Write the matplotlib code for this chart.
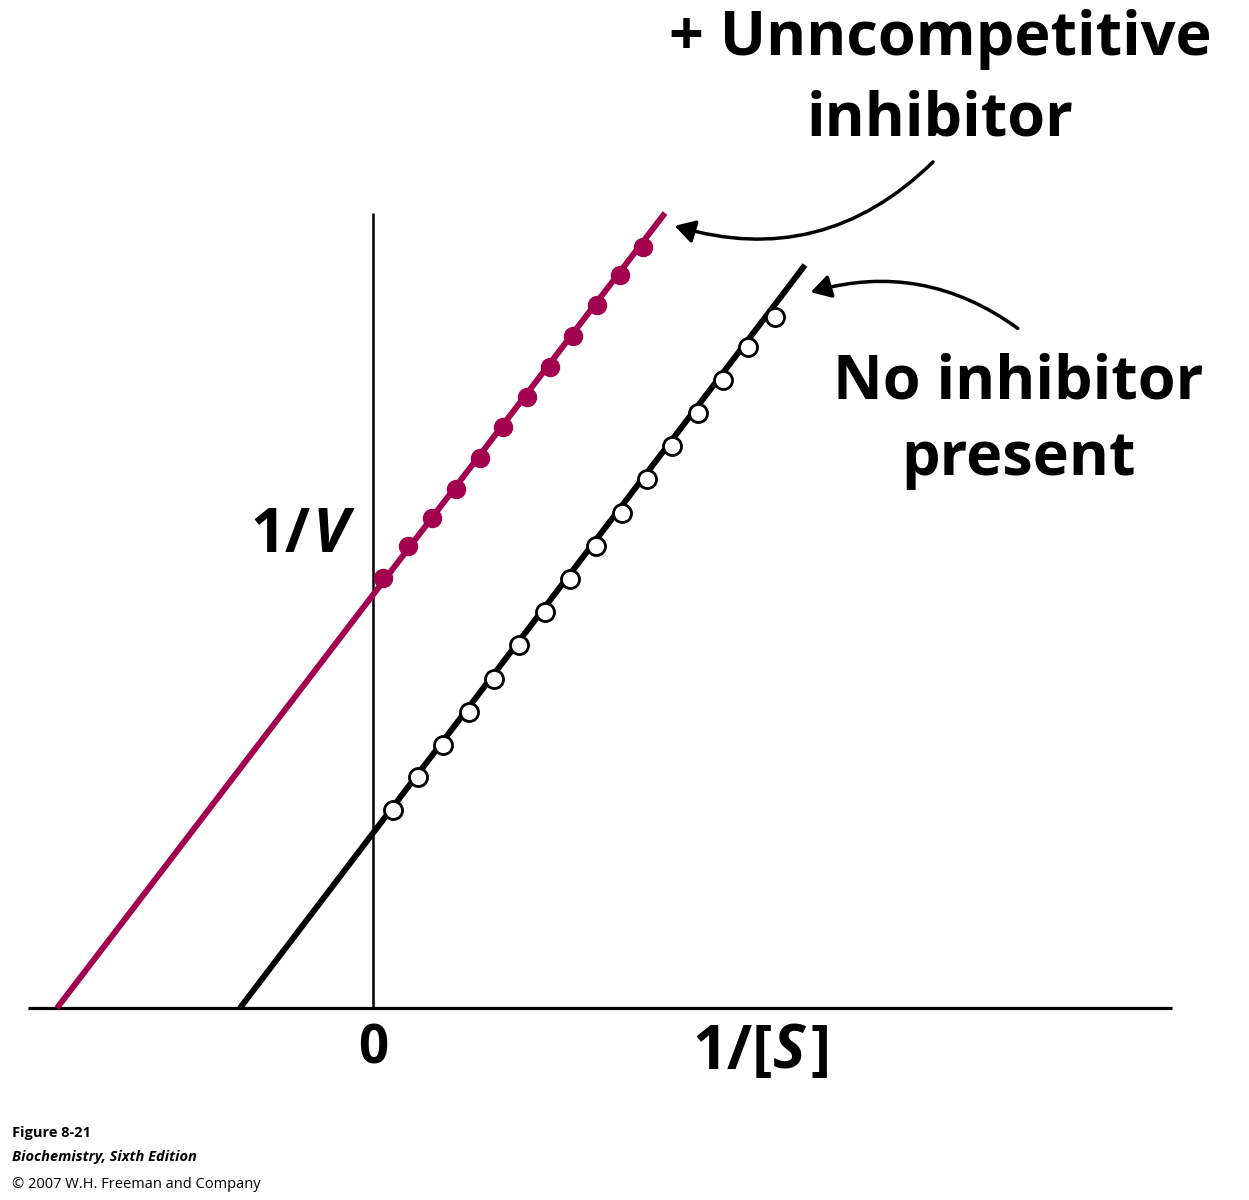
import matplotlib
matplotlib.use("Agg")
import matplotlib.pyplot as plt
from matplotlib.patches import FancyArrowPatch

# Data (units of 1/[S] and 1/V, arbitrary)
none_line_x = [-1.33, 4.32]
none_line_y = [0.0, 7.43]
inh_line_x = [-3.16, 2.92]
inh_line_y = [0.0, 7.95]
none_pts_x = [0.20, 0.45, 0.70, 0.96, 1.21, 1.46, 1.72, 1.97, 2.23, 2.49, 2.74, 2.99, 3.25, 3.50, 3.75, 4.02]
none_pts_y = [1.98, 2.31, 2.63, 2.96, 3.29, 3.63, 3.96, 4.29, 4.62, 4.95, 5.29, 5.62, 5.95, 6.28, 6.61, 6.91]
inh_pts_x = [0.10, 0.35, 0.59, 0.83, 1.07, 1.30, 1.54, 1.77, 2.00, 2.24, 2.47, 2.70]
inh_pts_y = [4.30, 4.62, 4.90, 5.19, 5.50, 5.81, 6.11, 6.41, 6.72, 7.03, 7.33, 7.61]

MAG = "#a3004f"
fig = plt.figure(figsize=(12.49, 12.0), dpi=100)
ax = fig.add_axes([0, 0, 1, 1])
ax.set_xlim(-3.73, 8.76)
ax.set_ylim(-1.92, 10.08)
ax.axis("off")

# axes lines
ax.plot([-3.45, 7.99], [0, 0], color="black", lw=2.3, solid_capstyle="butt")
ax.plot([0, 0], [0, 7.95], color="black", lw=1.8, solid_capstyle="butt")

ax.plot(inh_line_x, inh_line_y, color=MAG, lw=4.3, solid_capstyle="butt")
ax.plot(none_line_x, none_line_y, color="black", lw=4.3, solid_capstyle="butt")
ax.plot(inh_pts_x, inh_pts_y, "o", color=MAG, ms=13, mec=MAG)
ax.plot(none_pts_x, none_pts_y, "o", mfc="white", mec="black", mew=2, ms=13)

fb = dict(family="Open Sans", fontweight="bold", color="black")
FS = 44
ax.text(5.67, 9.68, "+ Unncompetitive", fontsize=FS, ha="center", va="center", **fb)
ax.text(5.67, 8.88, "inhibitor", fontsize=FS, ha="center", va="center", **fb)
ax.text(6.45, 6.25, "No inhibitor", fontsize=FS, ha="center", va="center", **fb)
ax.text(6.45, 5.48, "present", fontsize=FS, ha="center", va="center", **fb)
ax.text(-0.62, 4.72, "1/", fontsize=FS, ha="right", va="center", **fb)
ax.text(-0.60, 4.72, "V", fontsize=FS, ha="left", va="center", style="italic", **fb)
ax.text(0, -0.42, "0", fontsize=38, ha="center", va="center", **fb)
ax.text(4.00, -0.45, "1/[", fontsize=FS, ha="right", va="center", **fb)
ax.text(4.00, -0.45, "S", fontsize=FS, ha="left", va="center", style="italic", **fb)
ax.text(4.38, -0.45, "]", fontsize=FS, ha="left", va="center", **fb)

a1 = FancyArrowPatch((5.62, 8.48), (2.99, 7.83), connectionstyle="arc3,rad=-0.3",
                     arrowstyle="-|>,head_length=12,head_width=7", lw=2.5, color="black")
a2 = FancyArrowPatch((6.47, 6.78), (4.35, 7.15), connectionstyle="arc3,rad=0.25",
                     arrowstyle="-|>,head_length=12,head_width=7", lw=2.5, color="black")
ax.add_patch(a1)
ax.add_patch(a2)

ax.text(-3.61, -1.25, "Figure 8-21", fontsize=10.5, fontweight="bold", family="Open Sans", va="center")
ax.text(-3.61, -1.49, "Biochemistry, Sixth Edition", fontsize=10.5, fontweight="bold", style="italic",
        family="Open Sans", va="center")
ax.text(-3.61, -1.77, "© 2007 W.H. Freeman and Company", fontsize=10.5, family="Open Sans", va="center")

fig.savefig("out.png", dpi=100)
